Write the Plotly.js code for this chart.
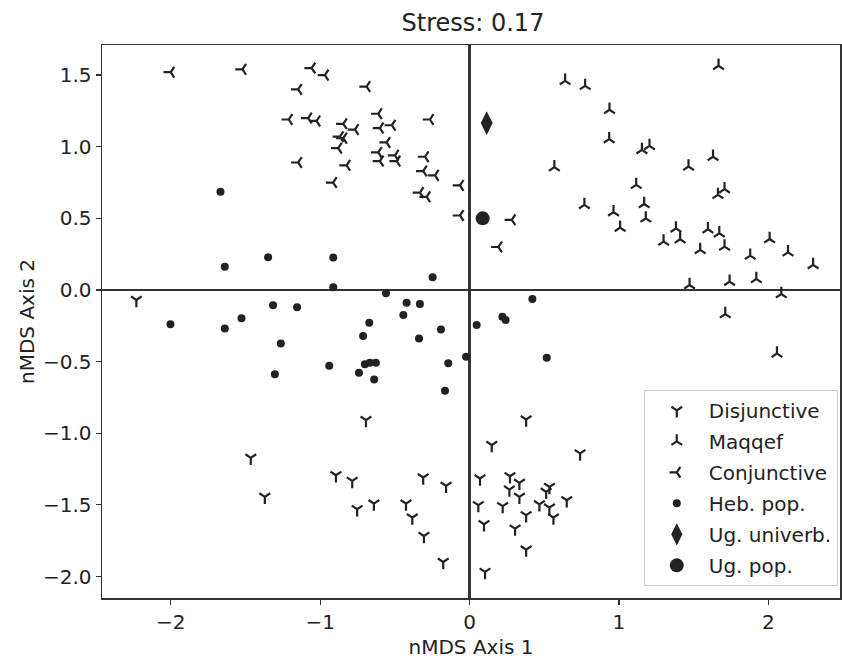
<!DOCTYPE html>
<html>
<head>
<meta charset="utf-8">
<script src="https://cdn.plot.ly/plotly-3.0.1.min.js"></script>
<style>html,body{margin:0;padding:0;background:#fff;}#chart{width:842px;height:662px;}</style>
</head>
<body>
<div id="chart"></div>
<script>
// Disjunctive
const disjX = [-2.23, -1.464, -1.37, -0.693, -0.894, -0.785, -0.752, -0.64, -0.425, -0.383, -0.31, -0.157, -0.305, -0.176,
  0.379, 0.149, 0.74, 0.07, 0.271, 0.334, 0.267, 0.535, 0.513, 0.334, 0.059, 0.222, 0.468, 0.535, 0.651, 0.562, 0.379, 0.097, 0.305, 0.379, 0.104];
const disjY = [-0.07, -1.172, -1.444, -0.908, -1.293, -1.333, -1.53, -1.491, -1.491, -1.589, -1.309, -1.367, -1.717, -1.899,
  -0.904, -1.083, -1.141, -1.316, -1.30, -1.346, -1.393, -1.375, -1.409, -1.444, -1.502, -1.509, -1.496, -1.519, -1.468, -1.589, -1.572, -1.635, -1.666, -1.812, -1.968];
// Maqqef
const maqX = [0.64, 0.774, 0.937, 0.935, 1.154, 1.205, 0.568, 1.116, 1.667, 1.63, 1.466, 1.707, 1.663, 1.169, 1.18, 1.382, 1.596, 1.672,
  1.299, 1.41, 1.544, 1.707, 2.009, 2.132, 1.879, 2.30, 1.473, 1.741, 1.92, 2.087, 1.712, 2.058, 0.769, 0.964, 1.008];
const maqY = [1.46, 1.425, 1.258, 1.053, 0.978, 1.006, 0.857, 0.734, 1.565, 0.93, 0.862, 0.704, 0.664, 0.60, 0.50, 0.43, 0.424, 0.396,
  0.338, 0.354, 0.28, 0.303, 0.356, 0.263, 0.24, 0.175, 0.035, 0.058, 0.077, -0.028, -0.168, -0.443, 0.594, 0.543, 0.435];
// Conjunctive
const conjX = [-2.0, -1.52, -1.057, -0.968, -1.147, -0.689, -0.611, -1.21, -1.08, -1.024, -0.845, -0.767, -0.60, -0.52, -0.265,
  -0.868, -0.845, -0.879, -0.555, -0.611, -0.60, -0.499, -0.488, -0.298, -1.147, -0.823, -0.31, -0.231, -0.913, -0.064,
  -0.332, -0.287, -0.064, 0.283, 0.193];
const conjY = [1.52, 1.54, 1.549, 1.50, 1.40, 1.42, 1.23, 1.19, 1.20, 1.18, 1.16, 1.12, 1.13, 1.15, 1.19,
  1.07, 1.06, 0.99, 1.03, 0.96, 0.90, 0.94, 0.90, 0.93, 0.89, 0.87, 0.83, 0.80, 0.75, 0.73,
  0.68, 0.65, 0.52, 0.49, 0.30];
// Heb. pop.
const hebX = [-1.667, -1.348, -1.638, -1.315, -1.154, -1.526, -2.002, -1.638, -1.263, -1.303,
  -0.912, -0.247, -0.912, -0.559, -0.421, -0.332, -0.443, -0.671, -0.191, -0.712, -0.338, -0.939, -0.70, -0.667, -0.627,
  -0.74, -0.638, -0.142, -0.023, -0.164, 0.048, 0.421, 0.22, 0.242, 0.517];
const hebY = [0.685, 0.228, 0.163, -0.107, -0.121, -0.198, -0.24, -0.268, -0.373, -0.589,
  0.226, 0.089, 0.019, -0.023, -0.089, -0.098, -0.175, -0.228, -0.275, -0.321, -0.338, -0.529, -0.519, -0.508, -0.508,
  -0.578, -0.624, -0.512, -0.466, -0.704, -0.245, -0.063, -0.186, -0.21, -0.473];
// Ug. univerb.
const ugUnivX = [0.115];
const ugUnivY = [1.165];
// Ug. pop.
const ugPopX = [0.088];
const ugPopY = [0.50];

const ink = '#222';
const font = 'DejaVu Sans, sans-serif';

function triTrace(name, x, y, sym, grp) {
  return {type: 'scatter', mode: 'markers', name: name, x: x, y: y, legendgroup: grp,
    marker: {symbol: sym, size: 9, color: ink, line: {color: ink, width: 2.2}}};
}

const traces = [
  triTrace('Disjunctive', disjX, disjY, 'y-down', 'a'),
  triTrace('Maqqef', maqX, maqY, 'y-up', 'b'),
  triTrace('Conjunctive', conjX, conjY, 'y-left', 'c'),
  {type: 'scatter', mode: 'markers', name: 'Heb. pop.', x: hebX, y: hebY, legendgroup: 'd',
    marker: {symbol: 'circle', size: 8, color: ink}},
  {type: 'scatter', mode: 'markers', name: 'Ug. univerb.', x: ugUnivX, y: ugUnivY, legendgroup: 'e',
    marker: {symbol: 'diamond-tall', size: 17, color: ink}},
  {type: 'scatter', mode: 'markers', name: 'Ug. pop.', x: ugPopX, y: ugPopY, legendgroup: 'f',
    marker: {symbol: 'circle', size: 14, color: ink}}
];

const axisCommon = {
  showline: true, mirror: true, linecolor: '#333', linewidth: 1.5,
  ticks: 'outside', ticklen: 5, tickwidth: 1.2, tickcolor: '#333',
  showgrid: false, zeroline: true, zerolinecolor: '#333', zerolinewidth: 2.5,
  tickfont: {family: font, size: 20, color: '#222'}
};

const layout = {
  width: 842, height: 662,
  margin: {l: 102, r: 2, t: 45, b: 64},
  paper_bgcolor: '#fff', plot_bgcolor: '#fff',
  title: {text: 'Stress: 0.17', font: {family: font, size: 24, color: '#222'}, x: 0.5617, xanchor: 'center', y: 0.966, yanchor: 'middle'},
  xaxis: Object.assign({}, axisCommon, {range: [-2.46, 2.48], tickvals: [-2, -1, 0, 1, 2],
    title: {text: 'nMDS Axis 1', font: {family: font, size: 20, color: '#222'}, standoff: 7}}),
  yaxis: Object.assign({}, axisCommon, {range: [-2.15, 1.71], tickvals: [-2, -1.5, -1, -0.5, 0, 0.5, 1, 1.5], tickformat: '.1f',
    title: {text: 'nMDS Axis 2', font: {family: font, size: 20, color: '#222'}, standoff: 3}}),
  showlegend: true,
  legend: {x: 0.997, xanchor: 'right', y: 0.022, yanchor: 'bottom', bgcolor: '#fff',
    bordercolor: '#ccc', borderwidth: 1, font: {family: font, size: 20, color: '#222'},
    tracegroupgap: 2, itemwidth: 54}
};

Plotly.newPlot('chart', traces, layout, {displayModeBar: false, staticPlot: true});
</script>
</body>
</html>
